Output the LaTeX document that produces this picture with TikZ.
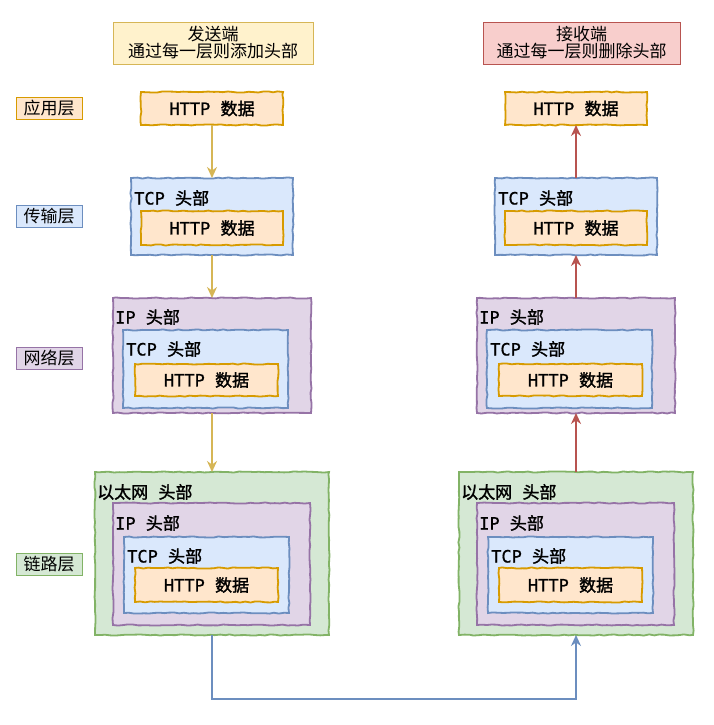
\documentclass[tikz,border=0pt]{standalone}
\usepackage{fontspec}
\setmainfont{Noto Sans CJK SC}
\newfontfamily\boldcjk{Noto Sans CJK SC}[FakeBold=1.6]
\newfontfamily\ltnfont{DejaVu Sans Mono}[FakeBold=0.8]
\newcommand\ltn[1]{{\ltnfont #1}}
\usetikzlibrary{decorations.pathmorphing,arrows.meta,calc}
\definecolor{yelF}{HTML}{FFF2CC}\definecolor{yelS}{HTML}{D6B656}
\definecolor{orF}{HTML}{FFE6CC}\definecolor{orS}{HTML}{D79B00}
\definecolor{blF}{HTML}{DAE8FC}\definecolor{blS}{HTML}{6C8EBF}
\definecolor{puF}{HTML}{E1D5E7}\definecolor{puS}{HTML}{9673A6}
\definecolor{grF}{HTML}{D5E8D4}\definecolor{grS}{HTML}{82B366}
\definecolor{rdF}{HTML}{F8CECC}\definecolor{rdS}{HTML}{B85450}
\tikzset{
  sk/.style={decorate,decoration={random steps,segment length=5pt,amplitude=0.6pt},line width=1.8pt},
  bx/.style={anchor=north west,inner sep=0pt,outer sep=0pt,sk},
  obox/.style={bx,draw=orS,fill=orF,font=\boldcjk\fontsize{17}{19}\selectfont},
  bbox/.style={bx,draw=blS,fill=blF},
  pbox/.style={bx,draw=puS,fill=puF},
  gbox/.style={bx,draw=grS,fill=grF},
  hdr/.style={anchor=west,inner sep=0pt,font=\boldcjk\fontsize{17}{19}\selectfont},
  plain/.style={anchor=north west,inner sep=0pt,outer sep=0pt,line width=0.9pt,font=\fontsize{17}{20}\selectfont},
  arrY/.style={draw=yelS,line width=1.8pt,-{Stealth[length=11pt,width=10pt]}},
  arrR/.style={draw=rdS,line width=1.8pt,-{Stealth[length=11pt,width=10pt]}},
  arrB/.style={draw=blS,line width=1.8pt,-{Stealth[length=11pt,width=10pt]}},
}
\begin{document}
\begin{tikzpicture}[x=1pt,y=-1pt]
\pgfmathsetseed{7}
\useasboundingbox[fill=white] (0,0) rectangle (713,725);
% titles
\node[plain,draw=yelS,fill=yelF,minimum width=200pt,minimum height=42pt,align=center] (tL) at (113,22) {发送端\\[-3pt]通过每一层则添加头部};
\node[plain,draw=rdS,fill=rdF,minimum width=197pt,minimum height=42pt,align=center] (tR) at (483,22) {接收端\\[-3pt]通过每一层则删除头部};
% layer labels
\node[plain,draw=orS,fill=orF,minimum width=66pt,minimum height=22pt] (l1) at (16,97) {应用层};
\node[plain,draw=blS,fill=blF,minimum width=66pt,minimum height=22pt] (l2) at (16,205) {传输层};
\node[plain,draw=puS,fill=puF,minimum width=66pt,minimum height=22pt] (l3) at (16,347) {网络层};
\node[plain,draw=grS,fill=grF,minimum width=66pt,minimum height=22pt] (l4) at (16,553) {链路层};
\foreach \dx/\s in {0/L,364/R}{
  % application
  \node[obox,minimum width=142pt,minimum height=33pt] (app\s) at (141+\dx,92) {\ltn{HTTP }数据};
  % transport
  \node[bbox,minimum width=162pt,minimum height=77pt] (tcp\s) at (131+\dx,178) {};
  \node[hdr] (tcpH\s) at (134+\dx,198) {\ltn{TCP }头部};
  \node[obox,minimum width=142pt,minimum height=34pt] (tcpD\s) at (141+\dx,211) {\ltn{HTTP }数据};
  % network
  \node[pbox,minimum width=198pt,minimum height=115pt] (net\s) at (113+\dx,298) {};
  \node[hdr] (netH\s) at (115+\dx,317) {\ltn{IP }头部};
  \node[bbox,minimum width=165pt,minimum height=78pt] (netT\s) at (123+\dx,330) {};
  \node[hdr] (netTH\s) at (126+\dx,349) {\ltn{TCP }头部};
  \node[obox,minimum width=143pt,minimum height=32pt] (netD\s) at (135+\dx,364) {\ltn{HTTP }数据};
  % link
  \node[gbox,minimum width=234pt,minimum height=163pt] (lnk\s) at (95+\dx,472) {};
  \node[hdr] (lnkH\s) at (97+\dx,492) {以太网\ltn{ }头部};
  \node[pbox,minimum width=197pt,minimum height=122pt] (lnkI\s) at (113+\dx,503) {};
  \node[hdr] (lnkIH\s) at (115+\dx,523) {\ltn{IP }头部};
  \node[bbox,minimum width=165pt,minimum height=76pt] (lnkT\s) at (124+\dx,537) {};
  \node[hdr] (lnkTH\s) at (127+\dx,556) {\ltn{TCP }头部};
  \node[obox,minimum width=143pt,minimum height=34pt] (lnkD\s) at (135+\dx,568) {\ltn{HTTP }数据};
}
% sender arrows
\draw[arrY] (appL.south) -- (tcpL.north);
\draw[arrY] (tcpL.south) -- (netL.north);
\draw[arrY] (netL.south) -- (lnkL.north);
% receiver arrows
\draw[arrR] (lnkR.north) -- (netR.south);
\draw[arrR] (netR.north) -- (tcpR.south);
\draw[arrR] (tcpR.north) -- (appR.south);
% physical link
\draw[arrB] (lnkL.south) -- ++(0,64) -| (lnkR.south);
\end{tikzpicture}
\end{document}
